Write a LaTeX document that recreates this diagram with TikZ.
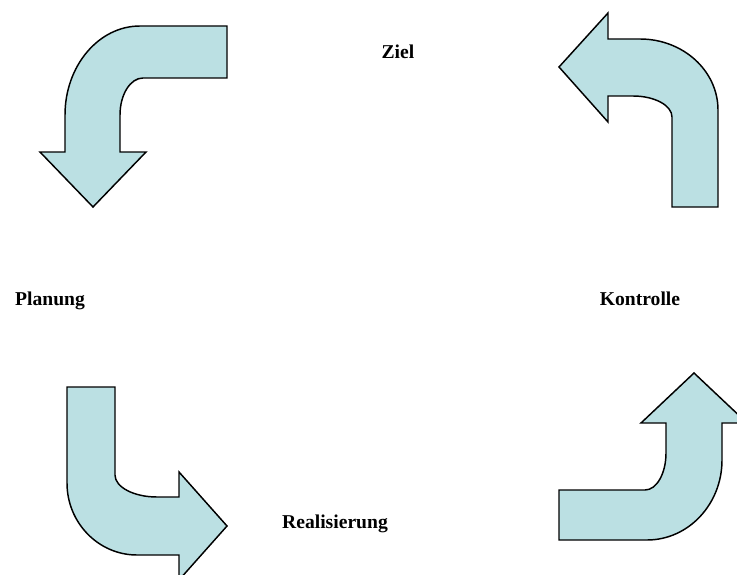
\documentclass[tikz,border=0pt]{standalone}
\usepackage{fontspec}
\setmainfont{Liberation Serif}
\usepackage{xcolor}
\definecolor{bleuclair}{RGB}{187,224,227}
\usetikzlibrary{positioning}

\tikzset{
  fleche/.style={draw=black, fill=bleuclair, line width=1.1pt, line join=miter},
  etiquette/.style={font=\bfseries\fontsize{14.7}{17}\selectfont, inner sep=0pt, anchor=base}
}

\begin{document}
\begin{tikzpicture}[x=0.75pt,y=-0.75pt]
            \useasboundingbox (0,0) rectangle (737,574);
            \clip (0,0) rectangle (737,574);

            % Étiquettes des quatre phases
            \node[etiquette] (ziel) at (398,59) {Ziel};
            \node[etiquette] (planung) at (50,305) {Planung};
            \node[etiquette] (kontrolle) at (640,305) {Kontrolle};
            \node[etiquette] (realisierung) at (335,528) {Realisierung};

            % Flèche en haut à gauche (vers le bas)
            \draw[fleche] (227,26) -- (140,26)
                .. controls (98.6,26) and (65,65.9) .. (65,115) -- (65,152)
                -- (40,152) -- (93,207) -- (146,152) -- (120,152) -- (120,115)
                .. controls (120,94.6) and (130.3,78) .. (143,78) -- (227,78) -- cycle;

            % Flèche en haut à droite (vers la gauche)
            \draw[fleche] (608,39) -- (640,39)
                .. controls (683.1,39) and (718,70.8) .. (718,110) -- (718,207)
                -- (672,207) -- (672,117)
                .. controls (672,105.4) and (654.5,96) .. (633,96) -- (608,96)
                -- (608,122) -- (559,67) -- (608,13) -- cycle;

            % Flèche en bas à gauche (vers la droite)
            \draw[fleche] (67,387) -- (115,387) -- (115,475)
                .. controls (115,487.1) and (133.8,497) .. (157,497) -- (179,497)
                -- (179,472) -- (227,526) -- (179,580) -- (179,555) -- (137,555)
                .. controls (98.4,555) and (67,522.7) .. (67,483) -- cycle;

            % Flèche en bas à droite (vers le haut)
            \draw[fleche] (559,490) -- (645,490)
                .. controls (656.6,490) and (666,473.4) .. (666,453) -- (666,423)
                -- (641,423) -- (694,373) -- (747,423) -- (722,423) -- (722,460)
                .. controls (722,504.2) and (688.4,540) .. (647,540) -- (559,540) -- cycle;
        \end{tikzpicture}
\end{document}
